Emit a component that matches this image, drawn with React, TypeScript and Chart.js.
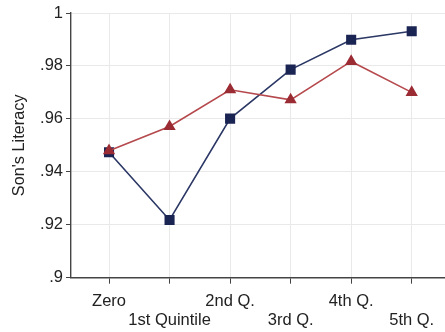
import React, { useEffect, useRef } from "react";
import { Chart, registerables } from "chart.js";

Chart.register(...registerables);

const categories = ["Zero", "1st Quintile", "2nd Q.", "3rd Q.", "4th Q.", "5th Q."];
const blueSeries = [0.9474, 0.9218, 0.9601, 0.9786, 0.9899, 0.9931];
const redSeries = [0.948, 0.9571, 0.971, 0.9672, 0.9817, 0.970];
const yTickValues = [0.9, 0.92, 0.94, 0.96, 0.98, 1];
const yTickLabels = [".9", ".92", ".94", ".96", ".98", "1"];

const FONT = "'Liberation Sans', Arial, sans-serif";

export default function App() {
  const ref = useRef<HTMLCanvasElement | null>(null);

  useEffect(() => {
    if (!ref.current) return;
    const chart = new Chart(ref.current, {
      type: "line",
      data: {
        datasets: [
          {
            label: "red",
            data: redSeries.map((v, i) => ({ x: i, y: v })),
            borderColor: "#b5494d",
            backgroundColor: "#9b2c34",
            pointBorderColor: "#9b2c34",
            pointBackgroundColor: "#9b2c34",
            borderWidth: 1.6,
            pointStyle: "triangle",
            pointRadius: 5.5,
            tension: 0,
          },
          {
            label: "blue",
            data: blueSeries.map((v, i) => ({ x: i, y: v })),
            borderColor: "#2b3765",
            backgroundColor: "#1b2553",
            pointBorderColor: "#1b2553",
            pointBackgroundColor: "#1b2553",
            borderWidth: 1.6,
            pointStyle: "rect",
            pointRadius: 6,
            tension: 0,
          },
        ],
      },
      options: {
        responsive: false,
        animation: false,
        layout: { autoPadding: false, padding: { top: 13, right: 0, left: 0, bottom: 0 } },
        plugins: { legend: { display: false }, tooltip: { enabled: false } },
        scales: {
          x: {
            type: "linear",
            min: -0.628,
            max: 5.55,
            afterBuildTicks: (scale: any) => {
              scale.ticks = categories.map((_, i) => ({ value: i }));
            },
            afterFit: (scale: any) => {
              scale.height = 54.3;
              scale.paddingLeft = 0;
              scale.paddingRight = 0;
            },
            ticks: {
              autoSkip: false,
              maxRotation: 0,
              minRotation: 0,
              padding: 9,
              color: "#222",
              font: { family: FONT, size: 16.5, lineHeight: 1.11 },
              callback: (v: any) => {
                const i = Math.round(Number(v));
                const lab = categories[i] ?? "";
                return i % 2 === 0 ? [lab, ""] : ["", lab];
              },
            },
            grid: {
              color: "#e9e9e9",
              lineWidth: 1,
              tickColor: "#444",
              tickLength: 6,
              drawTicks: true,
            },
            border: { color: "#444", width: 1.4 },
          },
          y: {
            type: "linear",
            min: 0.9,
            max: 1,
            afterBuildTicks: (scale: any) => {
              scale.ticks = yTickValues.map((v) => ({ value: v }));
            },
            afterFit: (scale: any) => {
              scale.width = 71;
              scale.paddingTop = 0;
              scale.paddingBottom = 0;
            },
            ticks: {
              padding: 3,
              color: "#222",
              font: { family: FONT, size: 16.5 },
              callback: (v: any) => {
                const idx = yTickValues.findIndex((t) => Math.abs(t - Number(v)) < 1e-6);
                return idx >= 0 ? yTickLabels[idx] : "";
              },
            },
            title: {
              display: true,
              text: "Son's Literacy",
              color: "#222",
              font: { family: FONT, size: 16.3 },
              padding: { top: 10, bottom: 4 },
            },
            grid: {
              color: "#e9e9e9",
              lineWidth: 1,
              tickColor: "#444",
              tickLength: 5,
            },
            border: { color: "#444", width: 1.4 },
          },
        },
      },
    });
    return () => chart.destroy();
  }, []);

  return (
    <div style={{ position: "absolute", left: 0, top: 0, width: 445, height: 332, background: "#fff" }}>
      <canvas ref={ref} width={445} height={332} style={{ display: "block" }} />
    </div>
  );
}
